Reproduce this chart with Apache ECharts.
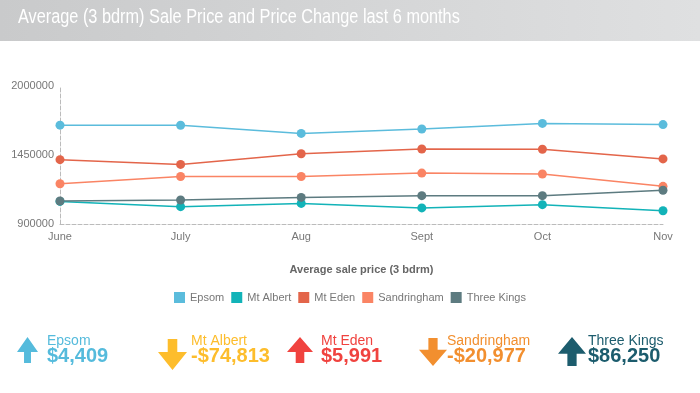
<!DOCTYPE html>
<html><head><meta charset="utf-8">
<script src="https://cdn.jsdelivr.net/npm/echarts@6/dist/echarts.min.js"></script>
<style>html,body{margin:0;padding:0;background:#fff}#c{width:700px;height:393px}</style>
</head><body><div id="c"></div>
<script>
const months = ['June','July','Aug','Sept','Oct','Nov'];
const seriesNames = ['Epsom','Mt Albert','Mt Eden','Sandringham','Three Kings'];
const epsom = [1688000,1687000,1622000,1657000,1702000,1692409];
const mtAlbert = [1080000,1038000,1064000,1028000,1054000,1005187];
const mtEden = [1413000,1375000,1460000,1498000,1496000,1418991];
const sandringham = [1221000,1279000,1279000,1306000,1299000,1200023];
const threeKings = [1083000,1091000,1112000,1126000,1126000,1169250];
const yTicks = [900000,1450000,2000000];
const changeLabels = ['$4,409','-$74,813','$5,991','-$20,977','$86,250'];
const changeDir = ['up','down','up','down','up'];

const lineColors = ['#5bbcdc','#12b3b8','#e3654a','#fa8464','#5d7b80'];
const changeColors = ['#55bbdc','#fdbd2c','#f0433f','#f28f2f','#1c5c6d'];
const allData = [epsom, mtAlbert, mtEden, sandringham, threeKings];

const chart = echarts.init(document.getElementById('c'), null, {renderer:'canvas'});

const arrowX = [17,158,287,419,558];
const arrowW = [21,29,26,28,28];
const arrowH = [26,31,26,28,29];
const arrowY = [337,339,337,338,337];
const textX = [47,191,321,447,588];

function arrowPoints(dir, w, h){
  const shaft = w*0.33, head = h*0.58;
  const cx = w/2;
  if (dir==='up') {
    return [[cx,0],[w,head],[cx+shaft/2,head],[cx+shaft/2,h],[cx-shaft/2,h],[cx-shaft/2,head],[0,head]];
  }
  return [[cx,h],[w,h-head],[cx+shaft/2,h-head],[cx+shaft/2,0],[cx-shaft/2,0],[cx-shaft/2,h-head],[0,h-head]];
}

const graphics = [
  {type:'rect', left:0, top:0, z:-1, shape:{width:700,height:41},
   style:{fill:new echarts.graphic.LinearGradient(0,0,1,0,[{offset:0,color:'#c9cacb'},{offset:1,color:'#dfe0e1'}])}},
  {type:'text', x:18, y:7, scaleX:0.815, originX:0, originY:0,
   style:{text:'Average (3 bdrm) Sale Price and Price Change last 6 months', fill:'#ffffff', font:'20px "Liberation Sans", Arial, sans-serif'}}
];
seriesNames.forEach((n,i)=>{
  graphics.push({type:'polygon', x:arrowX[i], y:arrowY[i], shape:{points:arrowPoints(changeDir[i],arrowW[i],arrowH[i])}, style:{fill:changeColors[i]}});
  graphics.push({type:'text', x:textX[i], y:334, style:{text:n, fill:changeColors[i], font:'14px "Liberation Sans", Arial, sans-serif'}});
  graphics.push({type:'text', x:textX[i], y:346, style:{text:changeLabels[i], fill:changeColors[i], font:'bold 20px "Liberation Sans", Arial, sans-serif'}});
});

chart.setOption({
  animation:false,
  textStyle:{fontFamily:'"Liberation Sans", Arial, sans-serif'},
  grid:{left:60, right:37, top:86, bottom:169, containLabel:false},
  legend:{data:seriesNames, top:287, left:'center', icon:'rect', itemWidth:11, itemHeight:11, itemGap:7,
    textStyle:{color:'#777', fontSize:11}},
  xAxis:{type:'category', data:months, boundaryGap:false,
    axisLine:{lineStyle:{color:'#bbb', type:'dashed'}}, axisTick:{show:false},
    axisLabel:{color:'#777', fontSize:11, margin:7},
    name:'Average sale price (3 bdrm)', nameLocation:'middle', nameGap:40,
    nameTextStyle:{color:'#666', fontSize:11, fontWeight:'bold'}},
  yAxis:{type:'value', min:yTicks[0], max:yTicks[2], interval:yTicks[1]-yTicks[0],
    axisLine:{show:true, lineStyle:{color:'#bbb', type:'dashed'}}, axisTick:{show:false},
    splitLine:{show:false}, axisLabel:{color:'#777', fontSize:11, margin:6, formatter:v=>String(v)}},
  series: seriesNames.map((n,i)=>({name:n, type:'line', data:allData[i], symbol:'circle', symbolSize:9,
    itemStyle:{color:lineColors[i]}, lineStyle:{width:1.5, color:lineColors[i]}})),
  graphic: graphics
});
</script></body></html>
